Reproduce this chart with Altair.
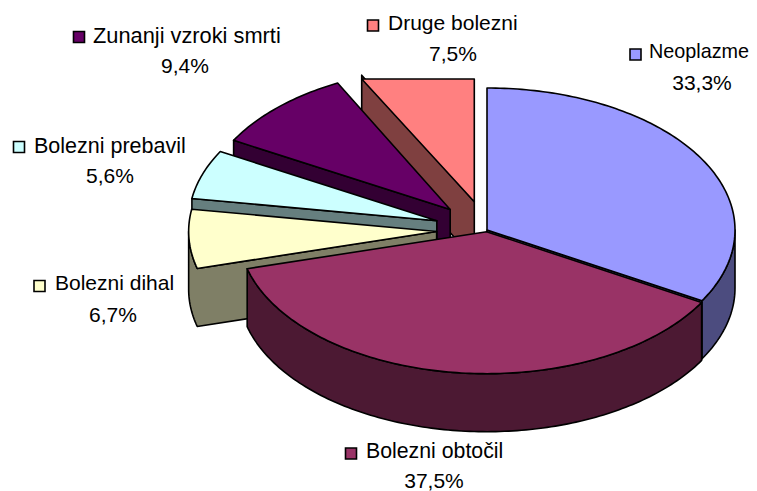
import math
import altair as alt

names = ["Neoplazme", "Bolezni obtočil", "Bolezni dihal", "Bolezni prebavil", "Zunanji vzroki smrti", "Druge bolezni"]
shares = [33.3, 37.5, 6.7, 5.6, 9.4, 7.5]
value_labels = ["33,3%", "37,5%", "6,7%", "5,6%", "9,4%", "7,5%"]
face_colors = ["#9999FF", "#993366", "#FFFFCC", "#CCFFFF", "#660066", "#FF8080"]
wall_colors = ["#4C4C7F", "#4C1933", "#7F7F66", "#667F7F", "#330033", "#7F4040"]
explosion = [0.0, 0.012, 0.19, 0.2, 0.2, 0.205]

W, H = 741, 483
CX, CY, RX, RY, DEPTH = 487, 230, 248, 142, 58
EXPLODE_X = 1.07
CLIP_TOP = 79

key_x = [635.5, 351, 39.5, 19, 79, 373]
key_y = [54.5, 453.5, 286, 147, 37, 25.5]
name_x = [649, 366, 55, 34, 93, 388]
name_y = [58, 458, 290, 153, 43, 30]
name_size = [19.8, 21.3, 21, 21.5, 21.8, 21]
val_x = [702, 434, 113, 110, 185, 453]
val_y = [90, 488, 322, 183, 73, 61]


def pt(ax, ay, deg, dy=0):
    t = math.radians(deg)
    return [ax + RX * math.sin(t), ay - RY * math.cos(t) + dy]


def feature(ring, fill):
    ring = [[round(x, 2), round(y, 2)] for x, y in ring]
    ring.append(ring[0])
    return {"type": "Feature", "properties": {"fill": fill},
            "geometry": {"type": "Polygon", "coordinates": [ring]}}


def sweep(a, b):
    n = max(6, int(b - a))
    return [a + (b - a) * k / n for k in range(n + 1)]


slices = []
start = 0.0
for i, s in enumerate(shares):
    a0 = start
    a1 = start + s * 3.6
    start = a1
    mid = math.radians((a0 + a1) / 2)
    ax = CX + EXPLODE_X * explosion[i] * RX * math.sin(mid)
    ay = CY - explosion[i] * RY * math.cos(mid)
    slices.append(dict(a0=a0, a1=a1, ax=ax, ay=ay))

features = []
for i in [5, 4, 3, 2, 0, 1]:
    sl = slices[i]
    ax, ay, a0, a1 = sl["ax"], sl["ay"], sl["a0"], sl["a1"]
    wall = wall_colors[i]
    lo, hi = max(a0, 90), min(a1, 270)
    has_outer = hi > lo
    if a0 >= 180:
        # the cut face on the slice's leading side looks towards the viewer
        ring = [[ax, ay]]
        if has_outer:
            angs = sweep(lo, hi)
            ring += [pt(ax, ay, a) for a in angs]
            ring += [pt(ax, ay, a, DEPTH) for a in reversed(angs)]
        else:
            ring += [pt(ax, ay, a0), pt(ax, ay, a0, DEPTH)]
        ring.append([ax, ay + DEPTH])
        features.append(feature(ring, wall))
    else:
        if a1 <= 180:
            features.append(feature([[ax, ay], pt(ax, ay, a1), pt(ax, ay, a1, DEPTH), [ax, ay + DEPTH]], wall))
        if has_outer:
            angs = sweep(lo, hi)
            features.append(feature([pt(ax, ay, a) for a in angs] + [pt(ax, ay, a, DEPTH) for a in reversed(angs)], wall))
    # top face (the original plot area cuts it off at its upper edge)
    top = [pt(ax, ay, a) for a in sweep(a0, a1)]
    face = [[ax, ay]] + [[x, max(y, CLIP_TOP)] for x, y in top]
    features.append(feature(face, face_colors[i]))

x_scale = alt.Scale(domain=[8, 8 + W], nice=False, zero=False)
y_scale = alt.Scale(domain=[8 + H, 8], nice=False, zero=False)

pie = (
    alt.Chart(alt.Data(values=features, format=alt.DataFormat(type="json")))
    .mark_geoshape(stroke="black", strokeWidth=1.6, strokeJoin="round")
    .encode(fill=alt.Fill("properties.fill:N", scale=None))
    .project(type="identity", scale=1, translate=[-8, -8])
)

rows = [dict(name=names[i], val=value_labels[i], fill=face_colors[i], size=name_size[i],
             kx=key_x[i], ky=key_y[i], nx=name_x[i], ny=name_y[i], vx=val_x[i], vy=val_y[i])
        for i in range(len(names))]
base = alt.Chart(alt.Data(values=rows))
FONT = dict(font="Liberation Sans", color="#000000", baseline="alphabetic")

keys = base.mark_square(size=121, stroke="black", strokeWidth=1.6, opacity=1).encode(
    x=alt.X("kx:Q", scale=x_scale, axis=None),
    y=alt.Y("ky:Q", scale=y_scale, axis=None),
    fill=alt.Fill("fill:N", scale=None),
)
name_text = base.mark_text(align="left", **FONT).encode(
    x=alt.X("nx:Q", scale=x_scale, axis=None),
    y=alt.Y("ny:Q", scale=y_scale, axis=None),
    size=alt.Size("size:Q", scale=None),
    text="name:N",
)
val_text = base.mark_text(align="center", fontSize=21, **FONT).encode(
    x=alt.X("vx:Q", scale=x_scale, axis=None),
    y=alt.Y("vy:Q", scale=y_scale, axis=None),
    text="val:N",
)

chart = (
    alt.layer(pie, keys, name_text, val_text)
    .resolve_scale(x="shared", y="shared")
    .properties(width=W, height=H, padding=0, autosize=alt.AutoSizeParams(type="none"), background="white")
    .configure_view(stroke=None)
)
chart.save("out.html", embed_options={"renderer": "svg", "actions": False})
